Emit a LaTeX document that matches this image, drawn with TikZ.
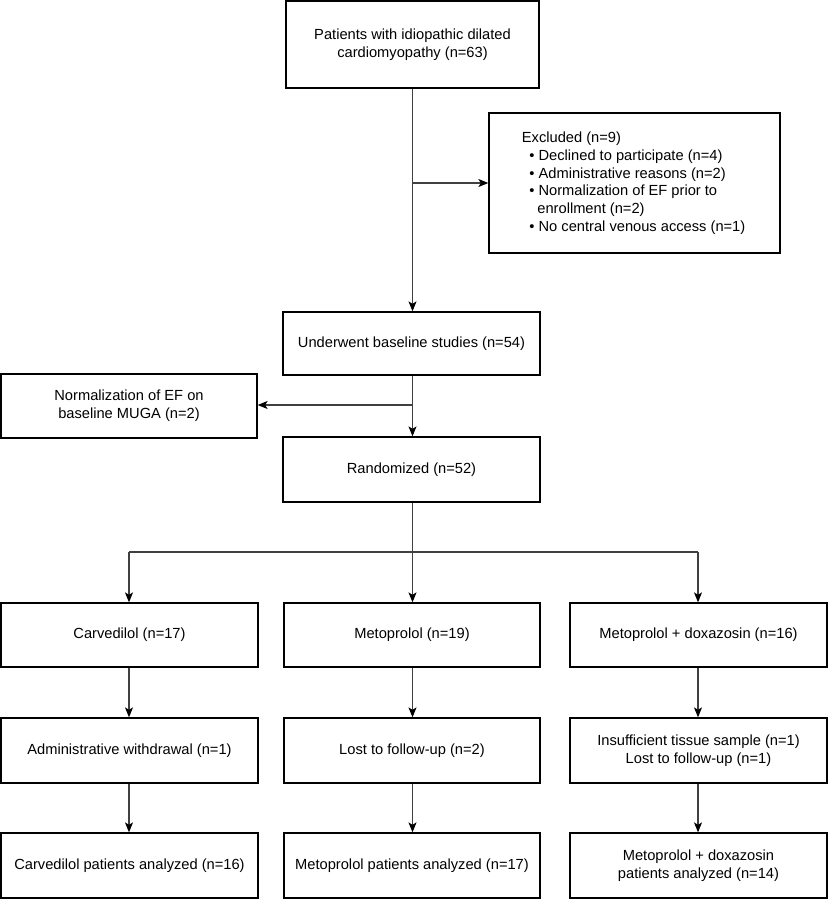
\documentclass[tikz,border=0pt]{standalone}
\usepackage{fontspec}
\setmainfont{Liberation Sans}
\usetikzlibrary{arrows.meta}
\begin{document}
\begin{tikzpicture}[x=1pt,y=-1pt,
  box/.style={draw=black,line width=1.3pt,inner sep=0pt,align=center,
    font=\fontsize{14.67}{17.7}\selectfont},
  conn/.style={draw=black!75,line width=1.1pt,-{Stealth[length=10pt,width=8pt,inset=2.5pt,color=black]}},
  line/.style={draw=black!75,line width=1.1pt}]
\useasboundingbox (0,0) rectangle (828,900);
% boxes
\node[box,minimum width=253pt,minimum height=87pt] (top) at (412.5,44.5)
  {Patients with idiopathic dilated\\cardiomyopathy (n=63)};
\node[box,minimum width=291pt,minimum height=140pt] (excl) at (634.5,183) {};
\node[anchor=north west,inner sep=0pt,align=left,
  font=\fontsize{14.67}{17.7}\selectfont] (excltext) at (521.7,132)
  {Excluded (n=9)\\
   \hspace*{7.5pt}• Declined to participate (n=4)\\
   \hspace*{7.5pt}• Administrative reasons (n=2)\\
   \hspace*{7.5pt}• Normalization of EF prior to\\
   \hspace*{15.5pt}enrollment (n=2)\\
   \hspace*{7.5pt}• No central venous access (n=1)};
\node[box,minimum width=257pt,minimum height=63pt] (under) at (411.5,343.5)
  {Underwent baseline studies (n=54)};
\node[box,minimum width=256pt,minimum height=64pt] (norm) at (129,406)
  {Normalization of EF on\\baseline MUGA (n=2)};
\node[box,minimum width=257pt,minimum height=65pt] (rand) at (411.5,469.5)
  {Randomized (n=52)};
% row 1
\node[box,minimum width=257pt,minimum height=64pt] (c1) at (129.5,635)
  {Carvedilol (n=17)};
\node[box,minimum width=256pt,minimum height=64pt] (m1) at (412,635)
  {Metoprolol (n=19)};
\node[box,minimum width=257pt,minimum height=64pt] (d1) at (698.5,635)
  {Metoprolol + doxazosin (n=16)};
% row 2
\node[box,minimum width=257pt,minimum height=65pt] (c2) at (129.5,750.5)
  {Administrative withdrawal (n=1)};
\node[box,minimum width=256pt,minimum height=65pt] (m2) at (412,750.5)
  {Lost to follow-up (n=2)};
\node[box,minimum width=257pt,minimum height=65pt] (d2) at (698.5,750.5)
  {Insufficient tissue sample (n=1)\\Lost to follow-up (n=1)};
% row 3
\node[box,minimum width=257pt,minimum height=65pt] (c3) at (129.5,865.5)
  {Carvedilol patients analyzed (n=16)};
\node[box,minimum width=256pt,minimum height=65pt] (m3) at (412,865.5)
  {Metoprolol patients analyzed (n=17)};
\node[box,minimum width=257pt,minimum height=65pt] (d3) at (698.5,865.5)
  {Metoprolol + doxazosin\\patients analyzed (n=14)};
% connectors
\coordinate (j1) at (412.5,183);
\coordinate (j2) at (412.5,405);
\coordinate (j3) at (412.5,552);
\coordinate (jl) at (129,552);
\coordinate (jr) at (698,552);
\draw[conn] (top.south -| j1) -- (under.north -| j1);
\draw[conn] (j1) -- (excl.west |- j1);
\draw[conn] (under.south -| j2) -- (rand.north -| j2);
\draw[conn] (j2) -- (norm.east |- j2);
\draw[line] (rand.south -| j3) -- (j3);
\draw[line] (jl) -- (jr);
\draw[conn] (jl) -- (c1.north -| jl);
\draw[conn] (j3) -- (m1.north -| j3);
\draw[conn] (jr) -- (d1.north -| jr);
\draw[conn] (c1.south -| jl) -- (c2.north -| jl);
\draw[conn] (m1.south -| j3) -- (m2.north -| j3);
\draw[conn] (d1.south -| jr) -- (d2.north -| jr);
\draw[conn] (c2.south -| jl) -- (c3.north -| jl);
\draw[conn] (m2.south -| j3) -- (m3.north -| j3);
\draw[conn] (d2.south -| jr) -- (d3.north -| jr);
\end{tikzpicture}
\end{document}
